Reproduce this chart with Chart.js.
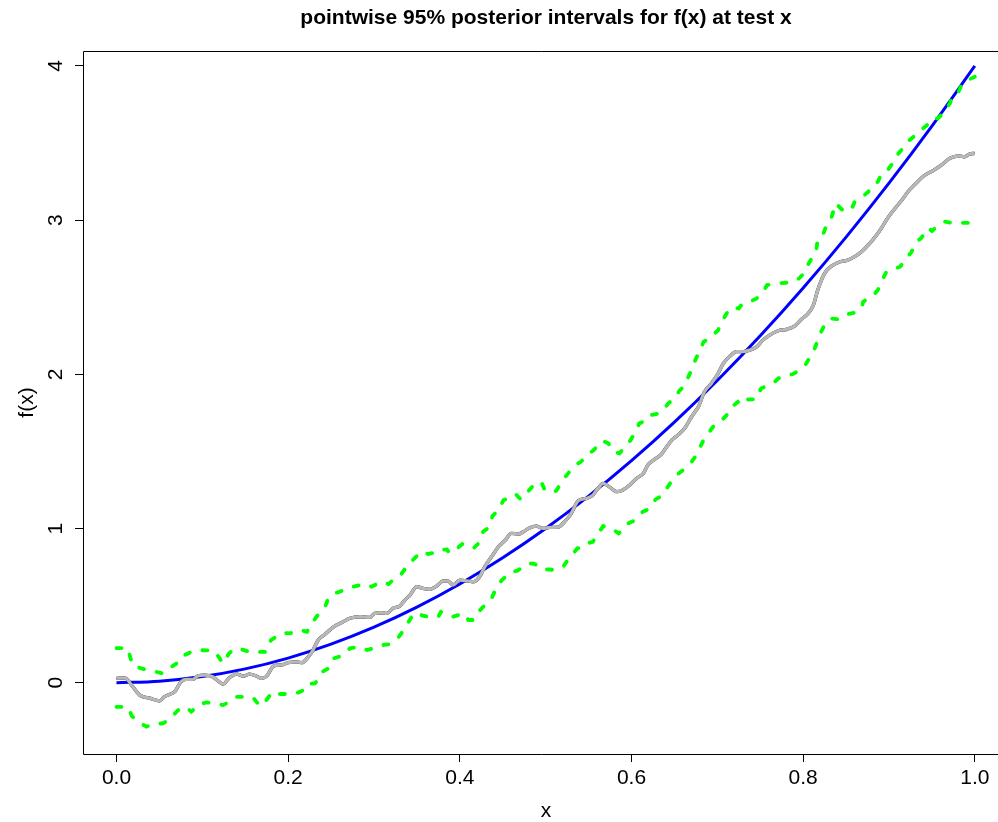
<!DOCTYPE html>
<html>
<head>
<meta charset="utf-8">
<script src="https://cdn.jsdelivr.net/npm/chart.js@4.4.0/dist/chart.umd.min.js"></script>
<style>
  html, body { margin: 0; padding: 0; background: #fff; }
  .chart-box { width: 998px; height: 822px; position: relative; }
</style>
</head>
<body>
<div class="chart-box"><canvas id="gp-chart"></canvas></div>
<script>
// Data
const chartTitle = "pointwise 95% posterior intervals for f(x) at test x";
const xTicks = [0, 0.2, 0.4, 0.6, 0.8, 1.0];
const yTicks = [0, 1, 2, 3, 4];

// true function
const trueX = [0, 0.05, 0.1, 0.15, 0.2, 0.25, 0.3, 0.35, 0.4, 0.45, 0.5, 0.55, 0.6, 0.65, 0.7, 0.75, 0.8, 0.85, 0.9, 0.95, 1.0];
const trueY = [0, 0.01, 0.04, 0.09, 0.16, 0.25, 0.36, 0.49, 0.64, 0.81, 1.0, 1.21, 1.44, 1.69, 1.96, 2.25, 2.56, 2.89, 3.24, 3.61, 4.0];

// posterior mean
const meanX = [0.000, 0.010, 0.019, 0.027, 0.039, 0.050, 0.056, 0.063, 0.068, 0.075, 0.081, 0.089, 0.095, 0.103, 0.112, 0.117, 0.124, 0.132, 0.140, 0.148,
  0.155, 0.163, 0.169, 0.175, 0.183, 0.192, 0.200, 0.210, 0.216, 0.222, 0.229, 0.235, 0.242, 0.253, 0.262, 0.272, 0.284, 0.295, 0.301, 0.309,
  0.315, 0.322, 0.330, 0.336, 0.342, 0.350, 0.357, 0.365, 0.373, 0.381, 0.386, 0.392, 0.400, 0.408, 0.416, 0.423, 0.429, 0.437, 0.445, 0.453,
  0.460, 0.468, 0.474, 0.480, 0.489, 0.497, 0.505, 0.515, 0.522, 0.529, 0.538, 0.548, 0.555, 0.561, 0.567, 0.575, 0.583, 0.590, 0.598, 0.606,
  0.614, 0.619, 0.627, 0.635, 0.641, 0.647, 0.654, 0.662, 0.670, 0.674, 0.678, 0.685, 0.693, 0.701, 0.707, 0.715, 0.722, 0.730, 0.738, 0.746,
  0.753, 0.761, 0.771, 0.781, 0.790, 0.798, 0.806, 0.812, 0.817, 0.825, 0.833, 0.843, 0.852, 0.860, 0.868, 0.876, 0.884, 0.891, 0.899, 0.907,
  0.915, 0.922, 0.930, 0.940, 0.951, 0.961, 0.971, 0.981, 0.988, 0.994, 1.000];
const meanY = [0.029, 0.030, -0.026, -0.080, -0.100, -0.117, -0.090, -0.073, -0.058, 0.006, 0.022, 0.022, 0.045, 0.050, 0.039, 0.018, -0.008, 0.035, 0.056, 0.043,
  0.056, 0.043, 0.028, 0.043, 0.108, 0.115, 0.130, 0.136, 0.130, 0.158, 0.212, 0.277, 0.310, 0.363, 0.389, 0.418, 0.428, 0.424, 0.450, 0.454,
  0.450, 0.482, 0.497, 0.536, 0.569, 0.623, 0.612, 0.606, 0.627, 0.661, 0.661, 0.634, 0.666, 0.661, 0.655, 0.687, 0.752, 0.817, 0.882, 0.925,
  0.969, 0.964, 0.979, 1.001, 1.016, 1.001, 1.008, 1.010, 1.044, 1.090, 1.180, 1.196, 1.217, 1.261, 1.293, 1.267, 1.239, 1.250, 1.282, 1.326,
  1.358, 1.412, 1.449, 1.483, 1.531, 1.574, 1.606, 1.650, 1.725, 1.757, 1.790, 1.887, 1.941, 2.006, 2.071, 2.119, 2.147, 2.147, 2.158, 2.179,
  2.222, 2.255, 2.283, 2.292, 2.313, 2.357, 2.396, 2.450, 2.547, 2.655, 2.702, 2.730, 2.741, 2.763, 2.795, 2.839, 2.892, 2.947, 3.018, 3.076,
  3.130, 3.184, 3.230, 3.285, 3.320, 3.357, 3.401, 3.416, 3.411, 3.429, 3.433];

// upper 95% band
const upperX = [0.000, 0.013, 0.017, 0.020, 0.033, 0.040, 0.054, 0.061, 0.073, 0.077, 0.085, 0.095, 0.105, 0.112, 0.119, 0.124, 0.131, 0.138, 0.146, 0.155,
  0.165, 0.174, 0.180, 0.186, 0.194, 0.202, 0.214, 0.222, 0.229, 0.233, 0.243, 0.247, 0.253, 0.260, 0.273, 0.279, 0.289, 0.297, 0.309, 0.317,
  0.324, 0.331, 0.340, 0.346, 0.355, 0.363, 0.370, 0.374, 0.385, 0.388, 0.397, 0.403, 0.416, 0.421, 0.427, 0.434, 0.438, 0.445, 0.451, 0.456,
  0.465, 0.471, 0.481, 0.485, 0.495, 0.498, 0.509, 0.513, 0.520, 0.525, 0.534, 0.541, 0.551, 0.556, 0.566, 0.573, 0.579, 0.586, 0.594, 0.599,
  0.606, 0.609, 0.619, 0.623, 0.632, 0.636, 0.643, 0.649, 0.656, 0.660, 0.666, 0.670, 0.674, 0.678, 0.684, 0.691, 0.701, 0.704, 0.711, 0.717,
  0.725, 0.729, 0.738, 0.746, 0.755, 0.758, 0.771, 0.780, 0.788, 0.794, 0.801, 0.803, 0.812, 0.815, 0.817, 0.823, 0.828, 0.833, 0.838, 0.846,
  0.856, 0.860, 0.869, 0.876, 0.881, 0.887, 0.892, 0.899, 0.907, 0.911, 0.920, 0.924, 0.933, 0.937, 0.947, 0.951, 0.957, 0.962, 0.971, 0.974,
  0.981, 0.984, 0.992, 1.000];
const upperY = [0.225, 0.225, 0.147, 0.108, 0.087, 0.078, 0.061, 0.093, 0.136, 0.173, 0.195, 0.212, 0.210, 0.212, 0.169, 0.126, 0.190, 0.223, 0.216, 0.200,
  0.200, 0.200, 0.277, 0.298, 0.324, 0.320, 0.342, 0.331, 0.396, 0.428, 0.493, 0.550, 0.578, 0.590, 0.619, 0.627, 0.640, 0.623, 0.655, 0.640,
  0.677, 0.698, 0.770, 0.800, 0.850, 0.835, 0.843, 0.860, 0.864, 0.841, 0.872, 0.900, 0.872, 0.900, 0.979, 1.008, 1.081, 1.120, 1.185, 1.196,
  1.224, 1.189, 1.250, 1.276, 1.303, 1.261, 1.232, 1.250, 1.315, 1.350, 1.410, 1.433, 1.488, 1.509, 1.569, 1.553, 1.498, 1.488, 1.541, 1.574,
  1.639, 1.682, 1.704, 1.736, 1.747, 1.764, 1.812, 1.838, 1.895, 1.916, 1.981, 2.028, 2.088, 2.136, 2.211, 2.233, 2.287, 2.331, 2.396, 2.434,
  2.428, 2.456, 2.471, 2.493, 2.551, 2.579, 2.590, 2.594, 2.600, 2.616, 2.655, 2.687, 2.770, 2.795, 2.875, 2.903, 2.979, 3.018, 3.109, 3.065,
  3.065, 3.119, 3.152, 3.184, 3.228, 3.249, 3.307, 3.329, 3.390, 3.433, 3.490, 3.520, 3.560, 3.584, 3.628, 3.660, 3.660, 3.688, 3.757, 3.805,
  3.833, 3.870, 3.909, 3.930];

// lower 95% band
const lowerX = [0.000, 0.013, 0.018, 0.025, 0.035, 0.042, 0.054, 0.061, 0.070, 0.075, 0.083, 0.087, 0.097, 0.105, 0.115, 0.124, 0.134, 0.140, 0.150, 0.159,
  0.167, 0.173, 0.182, 0.190, 0.199, 0.209, 0.220, 0.223, 0.231, 0.235, 0.240, 0.247, 0.253, 0.262, 0.272, 0.282, 0.292, 0.299, 0.311, 0.319,
  0.329, 0.334, 0.344, 0.348, 0.358, 0.364, 0.375, 0.378, 0.388, 0.392, 0.404, 0.410, 0.416, 0.420, 0.431, 0.437, 0.443, 0.449, 0.460, 0.467,
  0.478, 0.485, 0.493, 0.497, 0.503, 0.511, 0.521, 0.525, 0.532, 0.537, 0.546, 0.551, 0.555, 0.560, 0.567, 0.575, 0.585, 0.590, 0.596, 0.603,
  0.613, 0.619, 0.628, 0.635, 0.643, 0.647, 0.654, 0.660, 0.670, 0.675, 0.684, 0.688, 0.695, 0.701, 0.711, 0.715, 0.724, 0.728, 0.736, 0.745,
  0.751, 0.756, 0.767, 0.771, 0.781, 0.788, 0.797, 0.803, 0.812, 0.815, 0.820, 0.824, 0.832, 0.841, 0.852, 0.860, 0.868, 0.870, 0.882, 0.887,
  0.894, 0.897, 0.907, 0.913, 0.921, 0.926, 0.933, 0.937, 0.946, 0.950, 0.958, 0.965, 0.977, 0.985, 1.000];
const lowerY = [-0.156, -0.156, -0.216, -0.253, -0.285, -0.268, -0.263, -0.242, -0.188, -0.160, -0.166, -0.188, -0.138, -0.128, -0.134, -0.145, -0.117, -0.091, -0.091, -0.095,
  -0.151, -0.123, -0.058, -0.073, -0.073, -0.069, -0.043, -0.008, -0.004, 0.018, 0.071, 0.093, 0.158, 0.173, 0.223, 0.233, 0.212, 0.223, 0.245, 0.251,
  0.298, 0.337, 0.428, 0.454, 0.433, 0.428, 0.428, 0.460, 0.440, 0.428, 0.450, 0.407, 0.407, 0.450, 0.515, 0.547, 0.623, 0.666, 0.720, 0.726,
  0.770, 0.774, 0.757, 0.735, 0.735, 0.731, 0.757, 0.790, 0.839, 0.872, 0.882, 0.908, 0.914, 0.958, 1.016, 1.008, 0.969, 0.990, 1.034, 1.051,
  1.109, 1.124, 1.189, 1.211, 1.276, 1.310, 1.353, 1.379, 1.433, 1.470, 1.574, 1.606, 1.660, 1.678, 1.736, 1.779, 1.822, 1.801, 1.838, 1.838,
  1.909, 1.920, 1.952, 1.974, 1.995, 2.002, 2.032, 2.065, 2.150, 2.190, 2.266, 2.309, 2.363, 2.357, 2.391, 2.400, 2.428, 2.471, 2.514, 2.547,
  2.633, 2.665, 2.687, 2.698, 2.760, 2.792, 2.866, 2.880, 2.950, 2.930, 2.968, 2.990, 2.979, 2.983, 2.983];

const toPoints = (xs, ys) => xs.map((x, i) => ({ x: x, y: ys[i] }));
const fontFamily = "'Liberation Sans', Arial, Helvetica, sans-serif";

// Frame, y labels and titles (R base style)
const rFramePlugin = {
  id: "rFrame",
  afterDraw(chart) {
    const { ctx, chartArea } = chart;
    const yScale = chart.scales.y;
    ctx.save();
    ctx.strokeStyle = "#000";
    ctx.lineWidth = 1;
    ctx.beginPath();
    ctx.moveTo(chartArea.right + 20, chartArea.top + 0.5);
    ctx.lineTo(chartArea.left + 0.5, chartArea.top + 0.5);
    ctx.lineTo(chartArea.left + 0.5, chartArea.bottom + 0.5);
    ctx.lineTo(chartArea.right + 20, chartArea.bottom + 0.5);
    ctx.stroke();

    ctx.fillStyle = "#000";
    ctx.font = "21px " + fontFamily;
    ctx.textAlign = "center";
    ctx.textBaseline = "alphabetic";
    yTicks.forEach((v) => {
      const py = yScale.getPixelForValue(v);
      ctx.save();
      ctx.translate(62, py);
      ctx.rotate(-Math.PI / 2);
      ctx.fillText(String(v), 0, 0);
      ctx.restore();
    });

    ctx.save();
    ctx.translate(33, (chartArea.top + chartArea.bottom) / 2);
    ctx.rotate(-Math.PI / 2);
    ctx.fillText("f(x)", 0, 0);
    ctx.restore();

    ctx.fillText("x", 546, 817);

    ctx.font = "bold 21px " + fontFamily;
    ctx.fillText(chartTitle, 546, 24);
    ctx.restore();
  },
};

const chartElement = document.querySelector("#gp-chart");
if (chartElement) {
  new Chart(chartElement, {
    type: "line",
    data: {
      datasets: [
        {
          label: "mean (gray)",
          data: toPoints(meanX, meanY),
          borderColor: "#B8B8B8",
          borderWidth: 3.3,
          borderJoinStyle: "round",
          pointRadius: 0,
          cubicInterpolationMode: "monotone",
        },
        {
          label: "mean",
          data: toPoints(meanX, meanY),
          borderColor: "#000000",
          borderWidth: 3.3,
          borderJoinStyle: "round",
          pointRadius: 0,
          cubicInterpolationMode: "monotone",
        },
        {
          label: "upper",
          data: toPoints(upperX, upperY),
          borderColor: "#00FF00",
          borderWidth: 3.8,
          borderDash: [5, 13],
          borderCapStyle: "round",
          pointRadius: 0,
          tension: 0,
        },
        {
          label: "lower",
          data: toPoints(lowerX, lowerY),
          borderColor: "#00FF00",
          borderWidth: 3.8,
          borderDash: [5, 13],
          borderCapStyle: "round",
          pointRadius: 0,
          tension: 0,
        },
        {
          label: "f(x)",
          data: toPoints(trueX, trueY),
          borderColor: "#0000FF",
          borderWidth: 3,
          pointRadius: 0,
          cubicInterpolationMode: "monotone",
        },
      ],
    },
    options: {
      responsive: true,
      maintainAspectRatio: false,
      animation: false,
      layout: { padding: { top: 51, left: 0, right: 0, bottom: 0 } },
      plugins: {
        legend: { display: false },
        tooltip: { enabled: false },
        title: { display: false },
      },
      scales: {
        x: {
          type: "linear",
          min: -0.039,
          max: 1.027,
          afterBuildTicks: (scale) => {
            scale.ticks = xTicks.map((v) => ({ value: v }));
          },
          afterFit: (scale) => {
            scale.height = 68;
          },
          border: { display: false },
          grid: {
            drawOnChartArea: false,
            drawTicks: true,
            tickLength: 8,
            color: "#000",
            lineWidth: 1,
          },
          ticks: {
            color: "#000",
            padding: 4,
            maxRotation: 0,
            font: { family: fontFamily, size: 21 },
            callback: (value) => Number(value).toFixed(1),
          },
        },
        y: {
          type: "linear",
          min: -0.462,
          max: 4.097,
          afterBuildTicks: (scale) => {
            scale.ticks = yTicks.map((v) => ({ value: v }));
          },
          afterFit: (scale) => {
            scale.width = 83;
          },
          border: { display: false },
          grid: {
            drawOnChartArea: false,
            drawTicks: true,
            tickLength: 8,
            color: "#000",
            lineWidth: 1,
          },
          ticks: { display: false },
        },
      },
    },
    plugins: [rFramePlugin],
  });
}
</script>
</body>
</html>
